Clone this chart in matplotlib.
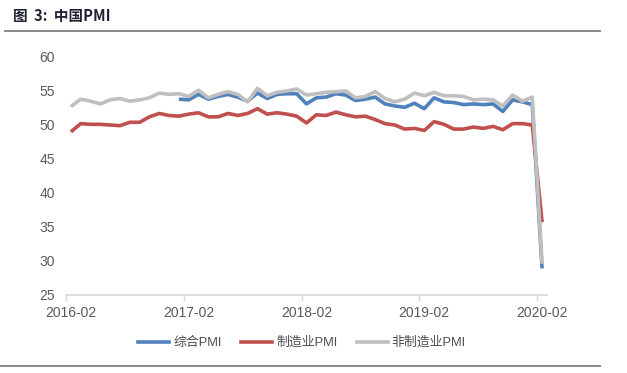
import matplotlib
matplotlib.use("Agg")
import matplotlib.pyplot as plt
from matplotlib.lines import Line2D
import numpy as np

plt.rcParams["font.family"] = ["Liberation Sans", "Noto Sans CJK SC", "DejaVu Sans"]

# ── Data (monthly, 2016-02 .. 2020-02) ───────────────────────────────────────
months = [f"{y}-{m:02d}" for y in range(2016, 2021) for m in range(1, 13)]
months = months[months.index("2016-02"):months.index("2020-02") + 1]

manufacturing = [
    49.0, 50.2, 50.1, 50.1, 50.0, 49.9, 50.4, 50.4, 51.2, 51.7, 51.4,
    51.3, 51.6, 51.8, 51.2, 51.2, 51.7, 51.4, 51.7, 52.4, 51.6, 51.8, 51.6,
    51.3, 50.3, 51.5, 51.4, 51.9, 51.5, 51.2, 51.3, 50.8, 50.2, 50.0, 49.4,
    49.5, 49.2, 50.5, 50.1, 49.4, 49.4, 49.7, 49.5, 49.8, 49.3, 50.2, 50.2,
    50.0, 35.7,
]
non_manufacturing = [
    52.7, 53.8, 53.5, 53.1, 53.7, 53.9, 53.5, 53.7, 54.0, 54.7, 54.5,
    54.6, 54.2, 55.1, 54.0, 54.5, 54.9, 54.5, 53.4, 55.4, 54.3, 54.8, 55.0,
    55.3, 54.4, 54.6, 54.8, 54.9, 55.0, 54.0, 54.2, 54.9, 53.9, 53.4, 53.8,
    54.7, 54.3, 54.8, 54.3, 54.3, 54.2, 53.7, 53.8, 53.7, 52.8, 54.4, 53.5,
    54.1, 29.6,
]
# composite index starts 2017-01
composite = [np.nan] * 11 + [
    53.8, 53.7, 54.5, 53.8, 54.2, 54.5, 54.1, 53.5, 54.7, 53.9, 54.5, 54.6,
    54.6, 53.1, 54.0, 54.1, 54.6, 54.4, 53.6, 53.8, 54.1, 53.1, 52.8, 52.6,
    53.2, 52.4, 54.0, 53.4, 53.3, 53.0, 53.1, 53.0, 53.1, 52.0, 53.7, 53.4,
    53.0, 28.9,
]
series_names = ["综合PMI", "制造业PMI", "非制造业PMI"]
series_colors = ["#4F81BD", "#C0504D", "#BFBFBF"]
yticks = [25, 30, 35, 40, 45, 50, 55, 60]

# ── Canvas ────────────────────────────────────────────────────────────────────
fig = plt.figure(figsize=(6.27, 3.73), dpi=100)
ax = fig.add_axes([66 / 627, 1 - 295 / 373, (547 - 66) / 627, (295 - 57) / 373])

x = np.arange(len(months))
for vals, name, col in zip([composite, manufacturing, non_manufacturing],
                           series_names, series_colors):
    ax.plot(x, vals, color=col, lw=2.6, label=name, solid_joinstyle="round",
            solid_capstyle="butt")

ax.set_xlim(-0.5, len(months) - 0.5)
ax.set_ylim(25, 60)
ax.set_yticks(yticks)
ax.tick_params(axis="y", length=0, pad=8, labelsize=10, labelcolor="#595959")

# tick marks at category boundaries, labels at category centres
lab_idx = list(range(0, len(months), 12))
ax.set_xticks([i - 0.5 for i in lab_idx])
ax.set_xticklabels([])
ax.set_xticks(lab_idx, minor=True)
ax.set_xticklabels([months[i] for i in lab_idx], minor=True)
ax.tick_params(axis="x", which="major", length=4, color="#D9D9D9", width=1)
ax.tick_params(axis="x", which="minor", length=0, pad=8, labelsize=10,
               labelcolor="#595959")

for s in ["top", "right", "left"]:
    ax.spines[s].set_visible(False)
ax.spines["bottom"].set_color("#D9D9D9")
ax.spines["bottom"].set_linewidth(1.2)

# ── Legend ────────────────────────────────────────────────────────────────────
handles = [Line2D([], [], color=c, lw=2.6) for c in series_colors]
fig.legend(handles, series_names, loc="center", bbox_to_anchor=(302 / 627, 1 - 343 / 373),
           ncol=3, frameon=False, fontsize=9.3, handlelength=2.4, handletextpad=0.3,
           columnspacing=1.5, labelcolor="#4D4D4D")

# ── Title and rules ──────────────────────────────────────────────────────────
fig.text(13 / 627, 1 - 16 / 373, "图  3:  中国PMI", fontsize=10.5, fontweight="bold",
         color="#1F2233", ha="left", va="center",
         family=["Noto Sans CJK SC", "DejaVu Sans"])
fig.add_artist(Line2D([5 / 627, 600 / 627], [1 - 31 / 373] * 2, color="#808080",
                      lw=1.3, transform=fig.transFigure))
fig.add_artist(Line2D([0, 600 / 627], [1 - 366 / 373] * 2, color="#808080",
                      lw=1.3, transform=fig.transFigure))

fig.savefig("out.png", dpi=100, facecolor="white")
